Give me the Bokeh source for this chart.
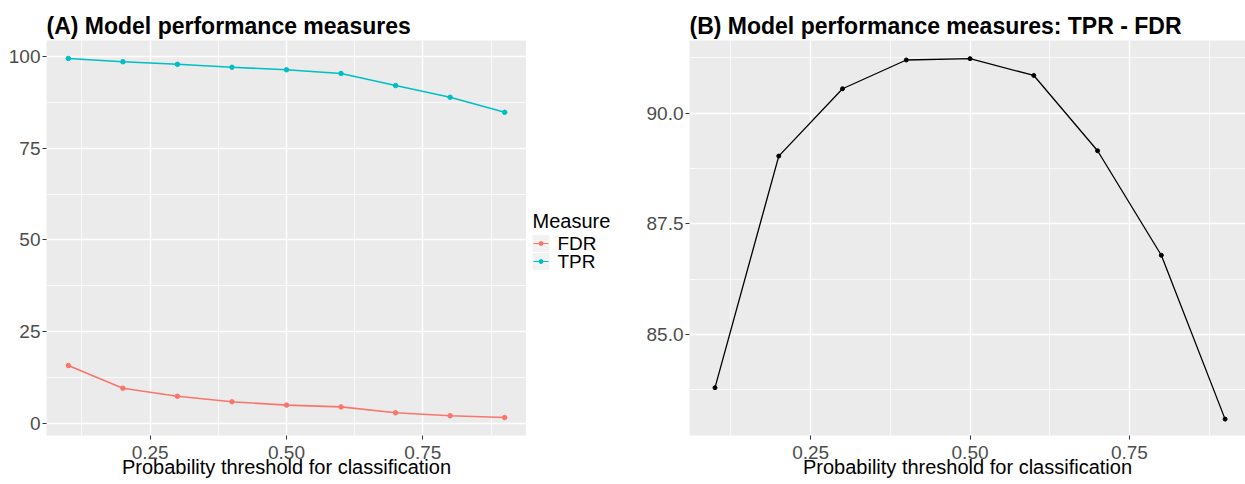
from bokeh.plotting import figure
from bokeh.layouts import row
from bokeh.models import FixedTicker, Range1d, Title
from bokeh.core.properties import value
from bokeh.embed import file_html
from bokeh.resources import INLINE

# ---- data ----
thresholds = [0.1, 0.2, 0.3, 0.4, 0.5, 0.6, 0.7, 0.8, 0.9]
tpr = [99.5, 98.6, 97.9, 97.1, 96.4, 95.4, 92.1, 88.9, 84.8]
fdr = [15.7, 9.5, 7.3, 5.8, 4.9, 4.4, 2.8, 2.0, 1.5]
tpr_minus_fdr = [83.80, 89.03, 90.55, 91.20, 91.23, 90.85, 89.15, 86.79, 83.09]

x_ticks = [0.25, 0.50, 0.75]
x_tick_labels = ["0.25", "0.50", "0.75"]
x_minor = [0.125, 0.375, 0.625, 0.875]
ya_ticks = [0, 25, 50, 75, 100]
ya_tick_labels = ["0", "25", "50", "75", "100"]
ya_minor = [12.5, 37.5, 62.5, 87.5]
yb_ticks = [85.0, 87.5, 90.0]
yb_tick_labels = ["85.0", "87.5", "90.0"]
yb_minor = [83.75, 86.25, 88.75, 91.25]

title_a = "(A) Model performance measures"
title_b = "(B) Model performance measures: TPR - FDR"
x_title = "Probability threshold for classification"
legend_title = "Measure"
series_names = ["FDR", "TPR"]

FONT = "Liberation Sans"
RED = "#F8766D"
CYAN = "#00BFC4"
series_colors = [RED, CYAN]

H = 484
TOP = 40
BOTTOM = 49


def style(p, xt, xl, xm, yt, yl, ym, title, xlab):
    p.background_fill_color = "#EBEBEB"
    p.border_fill_color = "white"
    p.outline_line_color = None
    p.xaxis.ticker = FixedTicker(ticks=xt, minor_ticks=xm)
    p.yaxis.ticker = FixedTicker(ticks=yt, minor_ticks=ym)
    p.xaxis.major_label_overrides = {t: l for t, l in zip(xt, xl)}
    p.yaxis.major_label_overrides = {t: l for t, l in zip(yt, yl)}
    for ax in (p.xaxis, p.yaxis):
        ax.axis_line_color = None
        ax.major_tick_line_color = "#333333"
        ax.major_tick_line_width = 1
        ax.major_tick_in = 0
        ax.major_tick_out = 4
        ax.minor_tick_line_color = None
        ax.major_label_text_font = FONT
        ax.major_label_text_font_size = "19px"
        ax.major_label_text_color = "#4D4D4D"
    p.xaxis.major_label_standoff = 6
    p.yaxis.major_label_standoff = 2
    p.xaxis.axis_label = xlab
    p.xaxis.axis_label_text_font = FONT
    p.xaxis.axis_label_text_font_size = "20px"
    p.xaxis.axis_label_text_font_style = "normal"
    p.xaxis.axis_label_text_color = "black"
    p.xaxis.axis_label_standoff = -6
    for g in (p.xgrid, p.ygrid):
        g.grid_line_color = "white"
        g.grid_line_width = 1.4
        g.minor_grid_line_color = "white"
        g.minor_grid_line_width = 0.7
    t = Title(text=title, text_font=FONT, text_font_size="23px", text_font_style="bold",
              text_color="black", align="left", offset=0, standoff=3)
    p.add_layout(t, "above")


# ---- panel A ----
pa = figure(width=526, height=H, output_backend="svg", toolbar_location=None,
            x_range=Range1d(0.06, 0.94), y_range=Range1d(-3.4, 104.4),
            min_border_left=46, min_border_right=0, min_border_top=TOP, min_border_bottom=BOTTOM)
style(pa, x_ticks, x_tick_labels, x_minor, ya_ticks, ya_tick_labels, ya_minor, title_a, x_title)

for vals, col in zip([fdr, tpr], series_colors):
    pa.line(thresholds, vals, line_color=col, line_width=1.6)
    pa.scatter(thresholds, vals, size=4.5, fill_color=col, line_color=col)

# ---- legend (own narrow figure; its frame spans the panel rows, y in page pixels downward) ----
pl = figure(width=99, height=H, output_backend="svg", toolbar_location=None,
            x_range=Range1d(0, 99), y_range=Range1d(H - BOTTOM, TOP),
            min_border_left=0, min_border_right=0, min_border_top=TOP, min_border_bottom=BOTTOM)
pl.axis.visible = False
pl.grid.visible = False
pl.outline_line_color = None
pl.background_fill_color = "white"
pl.border_fill_color = "white"

key_x0, key_w, row0, row_h = 6, 17, 243, 18
rows_y = [row0 + i * row_h for i in range(len(series_names))]
key_cx = [key_x0 + key_w / 2] * len(series_names)
pl.rect(x=key_cx, y=rows_y, width=key_w, height=key_w, fill_color="#F2F2F2", line_color=None)
pl.segment(x0=[key_x0 + 1] * len(series_names), y0=rows_y,
           x1=[key_x0 + key_w - 1] * len(series_names), y1=rows_y,
           line_color=series_colors, line_width=1.2)
pl.scatter(x=key_cx, y=rows_y, size=4, fill_color=series_colors, line_color=series_colors)
pl.text(x=[key_x0 + key_w + 8] * len(series_names), y=rows_y, text=series_names,
        text_font=value(FONT), text_font_size="19px", text_color="black",
        text_align="left", text_baseline="middle")
pl.text(x=[key_x0], y=[row0 - 23], text=[legend_title],
        text_font=value(FONT), text_font_size="20px", text_color="black",
        text_align="left", text_baseline="alphabetic")

# ---- panel B ----
pb = figure(width=620, height=H, output_backend="svg", toolbar_location=None,
            x_range=Range1d(0.06, 0.932), y_range=Range1d(82.72, 91.64),
            min_border_left=64, min_border_right=0, min_border_top=TOP, min_border_bottom=BOTTOM)
style(pb, x_ticks, x_tick_labels, x_minor, yb_ticks, yb_tick_labels, yb_minor, title_b, x_title)
pb.line(thresholds, tpr_minus_fdr, line_color="black", line_width=1.3)
pb.scatter(thresholds, tpr_minus_fdr, size=4, fill_color="black", line_color="black")

layout = row(pa, pl, pb, spacing=0)
open("out.html", "w").write(file_html(layout, INLINE))
